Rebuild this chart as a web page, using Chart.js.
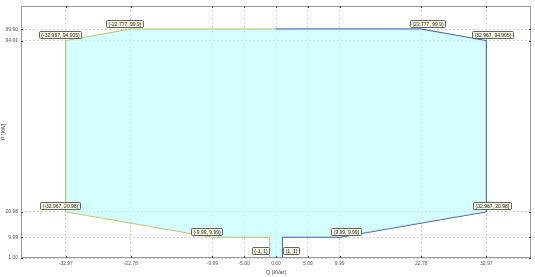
<!DOCTYPE html>
<html>
<head>
<meta charset="utf-8">
<script src="https://cdn.jsdelivr.net/npm/chart.js@4.4.1/dist/chart.umd.min.js"></script>
<style>
  html, body { margin: 0; padding: 0; background: #fff; }
</style>
</head>
<body>
<canvas id="chart" width="535" height="277"></canvas>
<script>
// boundary of the P-Q area, left half (Q < 0) and right half (Q > 0)
const leftQ  = [-1, -1, -9.99, -32.967, -32.967, -22.777, 0];
const leftP  = [1, 9.99, 9.99, 20.98, 94.905, 99.9, 99.9];
const rightQ = [1, 1, 9.99, 32.967, 32.967, 22.777, 0];
const rightP = [1, 9.99, 9.99, 20.98, 94.905, 99.9, 99.9];

// data tips
const tipQ = [-1, -9.99, -32.967, -32.967, -22.777, 1, 9.99, 32.967, 32.967, 22.777];
const tipP = [1, 9.99, 20.98, 94.905, 99.9, 1, 9.99, 20.98, 94.905, 99.9];

const xTicks = [-32.97, -22.78, -9.99, -5.00, 0.00, 5.00, 9.99, 22.78, 32.97];
const yTicks = [1.00, 9.99, 20.98, 94.91, 99.90];

const toPts = (qs, ps) => qs.map((q, i) => ({ x: q, y: ps[i] }));
const leftLine = toPts(leftQ, leftP);
const rightLine = toPts(rightQ, rightP);
// upper and lower edges of the area, both running left to right
const upper = leftLine.slice(3).concat(rightLine.slice(3, 6).reverse());
const lower = leftLine.slice(0, 4).reverse().concat(rightLine.slice(0, 4));

const FONT = '"Liberation Sans", Arial, sans-serif';

const frame = {
    id: 'frame',
    afterDatasetsDraw(chart) {
        const { ctx, chartArea: a, scales } = chart;
        ctx.save();
        ctx.strokeStyle = '#9a9a9a';
        ctx.lineWidth = 1;
        ctx.strokeRect(a.left + 0.5, a.top + 0.5, a.right - a.left - 1, a.bottom - a.top - 1);
        ctx.strokeStyle = '#444';
        ctx.beginPath();
        xTicks.forEach(v => {
            const px = Math.round(scales.x.getPixelForValue(v)) + 0.5;
            ctx.moveTo(px, a.top); ctx.lineTo(px, a.top + 2);
            ctx.moveTo(px, a.bottom); ctx.lineTo(px, a.bottom - 2);
        });
        yTicks.forEach(v => {
            const py = Math.round(scales.y.getPixelForValue(v)) + 0.5;
            ctx.moveTo(a.left, py); ctx.lineTo(a.left + 2, py);
            ctx.moveTo(a.right, py); ctx.lineTo(a.right - 2, py);
        });
        ctx.stroke();

        // data tip boxes
        ctx.font = '5px ' + FONT;
        ctx.textBaseline = 'middle';
        ctx.textAlign = 'center';
        tipQ.forEach((q, i) => {
            const p = tipP[i];
            const text = '(' + q + ', ' + p + ')';
            const px = scales.x.getPixelForValue(q);
            const py = scales.y.getPixelForValue(p);
            const w = Math.round(ctx.measureText(text).width + 4);
            const h = 7;
            const side = q < 0 ? -1 : 1;
            const dx = p < 5 ? side * (w / 2 + 1) : side * 6;
            const bottom = p < 5 ? py - 4 : py - 2.5;
            const x0 = Math.round(px + dx - w / 2) + 0.5;
            const y0 = Math.round(bottom - h) + 0.5;
            ctx.fillStyle = '#fbfbe4';
            ctx.strokeStyle = '#3a3a3a';
            ctx.lineWidth = 0.8;
            ctx.beginPath();
            ctx.roundRect(x0, y0, w, h, 1);
            ctx.fill();
            ctx.stroke();
            ctx.fillStyle = '#222';
            ctx.fillText(text, x0 + w / 2, y0 + h / 2 + 0.3);
        });
        ctx.restore();
    }
};

new Chart(document.getElementById('chart').getContext('2d'), {
    type: 'scatter',
    data: {
        datasets: [
            {
                data: upper,
                showLine: true,
                fill: '+1',
                backgroundColor: 'rgba(185,255,255,0.62)',
                borderColor: 'rgba(0,0,0,0)',
                borderWidth: 0,
                pointRadius: 0
            },
            {
                data: lower,
                showLine: true,
                fill: false,
                borderColor: 'rgba(0,0,0,0)',
                borderWidth: 0,
                pointRadius: 0
            },
            {
                data: leftLine,
                showLine: true,
                fill: false,
                borderColor: '#d0b058',
                borderWidth: 1.2,
                pointRadius: 0
            },
            {
                data: rightLine,
                showLine: true,
                fill: false,
                borderColor: '#34439a',
                borderWidth: 1.2,
                pointRadius: 0
            }
        ]
    },
    options: {
        responsive: false,
        animation: false,
        devicePixelRatio: 1,
        layout: { padding: { top: 4, right: 4, left: 0, bottom: 0 } },
        plugins: {
            legend: { display: false },
            tooltip: { enabled: false }
        },
        scales: {
            x: {
                type: 'linear',
                min: -40,
                max: 40,
                afterBuildTicks: s => { s.ticks = xTicks.map(v => ({ value: v })); },
                afterFit: s => { s.height = 19; },
                grid: { color: '#d4d4d4', drawTicks: false },
                border: { display: false, dash: [2, 2] },
                ticks: {
                    padding: 3,
                    maxRotation: 0,
                    autoSkip: false,
                    color: '#555',
                    font: { family: FONT, size: 5 },
                    callback: v => v.toFixed(2)
                },
                title: {
                    display: true,
                    text: 'Q [kVar]',
                    color: '#444',
                    padding: { top: 0, bottom: 1 },
                    font: { family: FONT, size: 5.5 }
                }
            },
            y: {
                type: 'linear',
                min: 1,
                max: 109.9,
                afterBuildTicks: s => { s.ticks = yTicks.map(v => ({ value: v })); },
                afterFit: s => { s.width = 21; },
                grid: { color: '#d4d4d4', drawTicks: false },
                border: { display: false, dash: [2, 2] },
                ticks: {
                    padding: 3,
                    autoSkip: false,
                    color: '#555',
                    font: { family: FONT, size: 5 },
                    callback: v => v.toFixed(2)
                },
                title: {
                    display: true,
                    text: 'P [kW]',
                    color: '#444',
                    padding: { top: 0, bottom: 0 },
                    font: { family: FONT, size: 5.5 }
                }
            }
        }
    },
    plugins: [frame]
});
</script>
</body>
</html>
